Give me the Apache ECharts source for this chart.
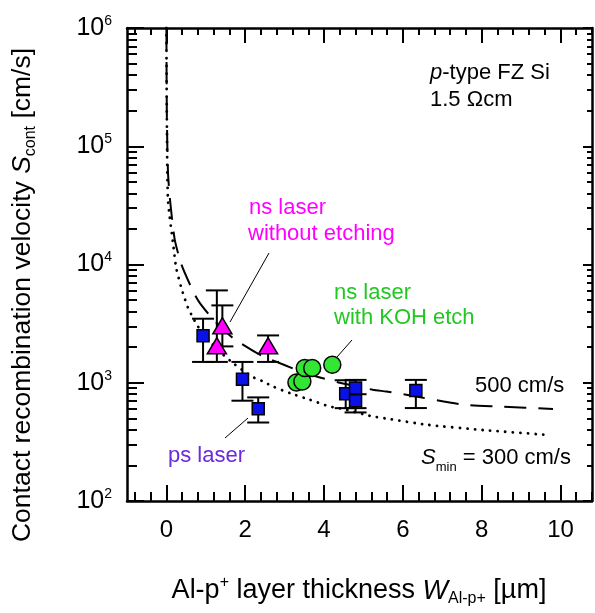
<!DOCTYPE html>
<html>
<head>
<meta charset="utf-8">
<script src="https://cdn.jsdelivr.net/npm/echarts@6/dist/echarts.min.js"></script>
<style>
  html, body { margin: 0; padding: 0; background: #fff; }
  #chart { width: 595px; height: 613px; }
</style>
</head>
<body>
<div id="chart"></div>
<script>
const FONT = '"Liberation Sans", Arial, Helvetica, sans-serif';

// axis ticks
const xMajor = [0, 2, 4, 6, 8, 10];
const yDecades = [2, 3, 4, 5, 6];          // exponents of 10 on the y axis

// ps laser (W in µm, S in cm/s, error bar low / high)
const psW    = [0.93, 1.93, 2.33, 4.55, 4.80, 4.80, 6.33];
const psS    = [2500, 1070, 603, 807, 902, 705, 858];
const psLow  = [1500, 705, 461, 610, 610, 561, 611];
const psHigh = [3480, 1500, 752, 1050, 1057, 800, 1057];

// ns laser without etching
const nsW    = [1.28, 1.42, 2.58];
const nsS    = [2055, 3034, 2055];
const nsLow  = [1500, 2030, 1500];
const nsHigh = [6040, 4510, 2513];

// ns laser with KOH etch
const kohW = [3.30, 3.45, 3.51, 3.70, 4.21];
const kohS = [1006, 1026, 1331, 1331, 1420];

// model curve, S = 500 cm/s
const fit500W = [0.00, 0.01, 0.04, 0.10, 0.21, 0.38, 0.68, 0.85, 1.23, 1.69, 2.37, 2.66, 3.30, 3.81, 4.40, 5.24, 5.58, 6.09, 7.53, 8.46, 9.81];
const fit500S = [1000000, 200000, 60000, 33000, 16300, 10000, 5900, 4720, 3300, 2390, 1727, 1566, 1288, 1130, 1000, 873, 843, 791, 652, 630, 599];

// model curve, S_min = 300 cm/s
const fit300W = [0.00, 0.01, 0.04, 0.17, 0.25, 0.38, 0.46, 0.55, 0.68, 0.80, 1.10, 1.44, 1.69, 2.16, 2.45, 2.70, 3.13, 3.64, 4.14, 4.48, 5.16, 5.67, 6.60, 8.04, 9.64];
const fit300S = [1000000, 200000, 35000, 15000, 9300, 6320, 5210, 4290, 3520, 2990, 2240, 1727, 1467, 1130, 1026, 930, 818, 718, 630, 600, 525, 493, 442, 398, 363];

const lg = Math.log10;
const pts = (xs, ys) => xs.map((x, i) => [x, lg(ys[i])]);
const bars = (xs, lo, hi) => xs.map((x, i) => [x, lg(lo[i]), lg(hi[i])]);

// tick positions between the labelled ones
const xMinor = [];
for (let k = -2; k <= 27; k++) {
  const v = Math.round(k * 0.4 * 10) / 10;
  if (v % 2 !== 0) xMinor.push(v);
}
const yMinor = [];
for (let n = 2; n < 6; n++) for (let k = 2; k <= 9; k++) yMinor.push(lg(k * Math.pow(10, n)));

const black = '#000';

function xAxisDef(position, ticks, len, withLine, withLabel) {
  return {
    type: 'value', position, min: -1, max: 10.8,
    axisLine: { show: withLine, onZero: false, lineStyle: { color: black, width: 2.5 } },
    axisTick: { show: true, inside: true, length: len, customValues: ticks, lineStyle: { color: black, width: 2 } },
    axisLabel: withLabel ? {
      show: true, customValues: xMajor, margin: 17, color: black, fontSize: 24, fontFamily: FONT
    } : { show: false },
    splitLine: { show: false }
  };
}
function yAxisDef(position, ticks, len, withLine, withLabel) {
  const ax = {
    type: 'value', position, min: 2, max: 6, interval: 1,
    axisLine: { show: withLine, onZero: false, lineStyle: { color: black, width: 2.5 } },
    axisTick: { show: true, inside: true, length: len, lineStyle: { color: black, width: 2 } },
    axisLabel: withLabel ? {
      show: true, margin: 15,
      formatter: v => '{b|10}{s|' + v + '}',
      rich: {
        b: { fontSize: 25, lineHeight: 28, fontFamily: FONT, color: black },
        s: { fontSize: 14, lineHeight: 15, fontFamily: FONT, color: black, verticalAlign: 'top' }
      }
    } : { show: false },
    splitLine: { show: false }
  };
  if (ticks) ax.axisTick.customValues = ticks;
  return ax;
}

function errorBar(params, api) {
  const x = api.value(0);
  const a = api.coord([x, api.value(1)]);
  const b = api.coord([x, api.value(2)]);
  const half = 11;
  const st = { stroke: black, lineWidth: 2 };
  return {
    type: 'group',
    children: [
      { type: 'line', shape: { x1: a[0], y1: a[1], x2: b[0], y2: b[1] }, style: st },
      { type: 'line', shape: { x1: a[0] - half, y1: a[1], x2: a[0] + half, y2: a[1] }, style: st },
      { type: 'line', shape: { x1: b[0] - half, y1: b[1], x2: b[0] + half, y2: b[1] }, style: st }
    ]
  };
}

const txt = (x, y, text, color, extra) => ({
  type: 'text', x, y, z: 100,
  style: Object.assign({
    text, fill: color, fontSize: 22, fontFamily: FONT,
    align: 'left', verticalAlign: 'middle'
  }, extra || {})
});
const pointer = (x1, y1, x2, y2) => ({
  type: 'line', z: 100, shape: { x1, y1, x2, y2 }, style: { stroke: black, lineWidth: 1 }
});

const richBase = (size) => ({
  n: { fontSize: size, fontFamily: FONT, fill: black, lineHeight: 32 },
  i: { fontSize: size, fontFamily: FONT, fill: black, fontStyle: 'italic', lineHeight: 32 },
  sub: { fontSize: Math.round(size * 0.6), fontFamily: FONT, fill: black, lineHeight: 17, verticalAlign: 'bottom' },
  sup: { fontSize: Math.round(size * 0.6), fontFamily: FONT, fill: black, lineHeight: 17, verticalAlign: 'top' }
});

const chart = echarts.init(document.getElementById('chart'), null, { renderer: 'canvas' });
chart.setOption({
  animation: false,
  backgroundColor: '#fff',
  grid: { left: 127, right: 3, top: 28, bottom: 112, containLabel: false },
  xAxis: [
    xAxisDef('bottom', xMajor, 16, true, true),
    xAxisDef('bottom', xMinor, 9, false, false),
    xAxisDef('top', xMajor, 15, true, false),
    xAxisDef('top', xMinor, 7, false, false)
  ],
  yAxis: [
    yAxisDef('left', null, 17, true, true),
    yAxisDef('left', yMinor, 10, false, false),
    yAxisDef('right', null, 9, true, false),
    yAxisDef('right', yMinor, 5, false, false)
  ],
  series: [
    {
      type: 'line', data: pts(fit300W, fit300S), showSymbol: false, smooth: 0.2, z: 2,
      lineStyle: { color: black, width: 2.8, type: [0.1, 7.5], cap: 'round' }
    },
    {
      type: 'line', data: pts(fit500W, fit500S), showSymbol: false, smooth: 0.2, z: 2,
      lineStyle: { color: black, width: 2, type: [22, 12] }
    },
    { type: 'custom', renderItem: errorBar, data: bars(psW, psLow, psHigh), encode: { x: 0, y: [1, 2] }, z: 3 },
    { type: 'custom', renderItem: errorBar, data: bars(nsW, nsLow, nsHigh), encode: { x: 0, y: [1, 2] }, z: 3 },
    {
      name: 'ps laser', type: 'scatter', data: pts(psW, psS), symbol: 'rect', symbolSize: 12, z: 4,
      itemStyle: { color: '#0a10e8', borderColor: black, borderWidth: 1.5, opacity: 1 }
    },
    {
      name: 'ns laser without etching', type: 'scatter', data: pts(nsW, nsS), symbol: 'triangle', symbolSize: [19, 16], z: 4,
      itemStyle: { color: '#ff00ff', borderColor: black, borderWidth: 1.5, opacity: 1 }
    },
    {
      name: 'ns laser with KOH etch', type: 'scatter', data: pts(kohW, kohS), symbol: 'circle', symbolSize: 17, z: 4,
      itemStyle: { color: '#33e633', borderColor: black, borderWidth: 1.5, opacity: 1 }
    }
  ],
  graphic: [
    // axis titles
    {
      type: 'text', x: 359, y: 591, z: 100,
      style: {
        text: '{n|Al-p}{sup|+}{n| layer thickness }{i|W}{sub|Al-p+}{n| [µm]}',
        rich: richBase(27), align: 'center', verticalAlign: 'middle'
      }
    },
    {
      type: 'text', x: 23, y: 295, rotation: Math.PI / 2, z: 100,
      style: {
        text: '{n|Contact recombination velocity }{i|S}{sub|cont}{n| [cm/s]}',
        rich: richBase(26.5), align: 'center', verticalAlign: 'middle'
      }
    },
    // sample description
    {
      type: 'text', x: 430, y: 73, z: 100,
      style: {
        text: '{i|p}{n|-type FZ Si}', rich: richBase(22), align: 'left', verticalAlign: 'middle'
      }
    },
    txt(430, 100, '1.5 Ωcm', black),
    // series annotations
    txt(249, 208, 'ns laser', '#ff00ff'),
    txt(248, 234, 'without etching', '#ff00ff'),
    pointer(269, 253, 230, 322),
    txt(334, 293, 'ns laser', '#22c822'),
    txt(334, 318, 'with KOH etch', '#22c822'),
    pointer(352, 340, 337, 357),
    txt(168, 456, 'ps laser', '#6a2bd9'),
    pointer(225, 438, 248, 418),
    // curve annotations
    txt(475, 386, '500 cm/s', black),
    {
      type: 'text', x: 421, y: 458, z: 100,
      style: {
        text: '{i|S}{sub|min}{n| = 300 cm/s}', rich: richBase(22), align: 'left', verticalAlign: 'middle'
      }
    }
  ]
});
</script>
</body>
</html>
